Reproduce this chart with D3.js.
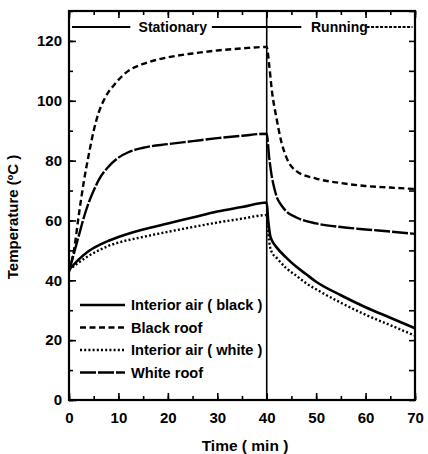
<!DOCTYPE html>
<html>
<head>
<meta charset="utf-8">
<script src="https://cdn.jsdelivr.net/npm/d3@7"></script>
<style>
  body { margin: 0; background: #fff; }
  svg { display: block; font-family: "Liberation Sans", Arial, sans-serif; font-weight: bold; }
</style>
</head>
<body>
<div id="chart"></div>
<script>
// time (min), temperature (C)
const blackRoofT = [0, 1, 2, 3, 4, 5, 6, 7, 8, 9, 10, 12, 15, 20, 25, 30, 35, 40,
                    40.5, 41, 42, 43, 44, 46, 50, 55, 60, 65, 70];
const blackRoofV = [43, 50, 62, 73, 82, 90, 96, 100, 103, 105, 107, 110, 112.3, 114.5, 115.8, 116.8, 117.5, 118,
                    112, 104, 94, 86, 81, 76.5, 74, 72.5, 71.5, 71, 70.5];

const whiteRoofT = [0, 1, 2, 3, 4, 5, 6, 8, 10, 12, 15, 20, 25, 30, 35, 40,
                    40.5, 41, 41.5, 42, 43, 44, 46, 50, 55, 60, 65, 70];
const whiteRoofV = [43, 49, 55, 61, 66, 70, 73.5, 78, 81, 82.8, 84.3, 85.5, 86.5, 87.5, 88.3, 89,
                    81, 75, 71, 68, 65, 63, 61, 59, 57.8, 57, 56.3, 55.5];

const airBlackT = [0, 2, 4, 6, 8, 10, 15, 20, 25, 30, 35, 40,
                   40.3, 40.7, 41, 42, 44, 46, 48, 50, 55, 60, 65, 70];
const airBlackV = [43.5, 47, 49.8, 51.7, 53.2, 54.5, 57, 59, 61, 63, 64.5, 66,
                   60, 55, 53.5, 51, 47.5, 44.5, 42, 39.5, 35, 31, 27.5, 24];

const airWhiteT = [0, 2, 4, 6, 8, 10, 15, 20, 25, 30, 35, 40,
                   40.3, 40.7, 41, 42, 44, 46, 48, 50, 55, 60, 65, 70];
const airWhiteV = [43.5, 46, 48.2, 50, 51.5, 52.6, 54.5, 56.2, 57.8, 59.3, 60.6, 61.8,
                   56, 51, 49.5, 47.5, 44, 41.5, 39, 37, 32.5, 28.5, 25, 21.5];

const legendLabels = ["Interior air ( black )", "Black roof", "Interior air ( white )", "White roof"];
const xTicks = [0, 10, 20, 30, 40, 50, 60, 70];
const yTicks = [0, 20, 40, 60, 80, 100, 120];

const width = 428, height = 454;
const margin = { left: 69, right: 13, top: 11, bottom: 54 };

const x = d3.scaleLinear().domain([0, 70]).range([margin.left, width - margin.right]);
const y = d3.scaleLinear().domain([0, 130]).range([height - margin.bottom, margin.top]);

const svg = d3.select('#chart').append('svg')
    .attr('width', width)
    .attr('height', height);

const series = [
    { t: airBlackT, v: airBlackV, dash: null, w: 2.6 },
    { t: blackRoofT, v: blackRoofV, dash: '6,3.5', w: 2.4 },
    { t: airWhiteT, v: airWhiteV, dash: '2,2.2', w: 2.4 },
    { t: whiteRoofT, v: whiteRoofV, dash: '16,2', w: 2.4 }
];

const line = d3.line()
    .x(d => x(d[0]))
    .y(d => y(d[1]))
    .curve(d3.curveMonotoneX);

series.forEach(s => {
    svg.append('path')
        .datum(s.t.map((t, i) => [t, s.v[i]]))
        .attr('d', line)
        .attr('fill', 'none')
        .attr('stroke', '#000')
        .attr('stroke-width', s.w)
        .attr('stroke-dasharray', s.dash);
});

// divider at 40 min
svg.append('line')
    .attr('x1', x(40)).attr('x2', x(40))
    .attr('y1', y(130)).attr('y2', y(0))
    .attr('stroke', '#000').attr('stroke-width', 1.6);

// axes with inward ticks
const minorX = d3.range(0, 71, 5);
const minorY = d3.range(0, 131, 10);

function styleAxis(g) {
    g.select('.domain').remove();
    g.selectAll('.tick line').attr('stroke', '#000').attr('stroke-width', 1.6);
}

function styleLabels(g) {
    g.selectAll('text').attr('font-size', 15).attr('font-weight', 'bold')
        .attr('font-family', '"Liberation Sans", Arial, sans-serif').attr('fill', '#000');
}

svg.append('g')
    .attr('transform', `translate(0,${y(0)})`)
    .call(d3.axisBottom(x).tickValues(minorX).tickSize(-4).tickFormat(''))
    .call(styleAxis);
svg.append('g')
    .attr('transform', `translate(0,${y(0)})`)
    .call(d3.axisBottom(x).tickValues(xTicks).tickSize(-7).tickPadding(12).tickFormat(d3.format('d')))
    .call(styleAxis)
    .call(styleLabels);

svg.append('g')
    .attr('transform', `translate(0,${y(130)})`)
    .call(d3.axisTop(x).tickValues(minorX).tickSize(-4).tickFormat(''))
    .call(styleAxis);
svg.append('g')
    .attr('transform', `translate(0,${y(130)})`)
    .call(d3.axisTop(x).tickValues(xTicks).tickSize(-7).tickFormat(''))
    .call(styleAxis);

svg.append('g')
    .attr('transform', `translate(${x(0)},0)`)
    .call(d3.axisLeft(y).tickValues(minorY).tickSize(-4).tickFormat(''))
    .call(styleAxis);
svg.append('g')
    .attr('transform', `translate(${x(0)},0)`)
    .call(d3.axisLeft(y).tickValues(yTicks).tickSize(-7).tickPadding(7).tickFormat(d3.format('d')))
    .call(styleAxis)
    .call(styleLabels);

svg.append('g')
    .attr('transform', `translate(${x(70)},0)`)
    .call(d3.axisRight(y).tickValues(minorY).tickSize(-6).tickFormat(''))
    .call(styleAxis);

// frame
svg.append('rect')
    .attr('x', x(0)).attr('y', y(130))
    .attr('width', x(70) - x(0)).attr('height', y(0) - y(130))
    .attr('fill', 'none').attr('stroke', '#000').attr('stroke-width', 2.2);

// top phase annotation
const annY = 27;
const ann = svg.append('g').attr('stroke', '#000').attr('stroke-width', 1.8);
ann.append('line').attr('x1', x(0.6)).attr('x2', x(12.4)).attr('y1', annY).attr('y2', annY);
ann.append('line').attr('x1', x(28.9)).attr('x2', x(47)).attr('y1', annY).attr('y2', annY);
ann.append('line').attr('x1', x(60.2)).attr('x2', x(69.5)).attr('y1', annY).attr('y2', annY)
    .attr('stroke-dasharray', '3,1.5');
svg.append('text').attr('x', x(21)).attr('y', annY + 5).attr('text-anchor', 'middle')
    .attr('font-size', 14).text('Stationary');
svg.append('text').attr('x', x(54.7)).attr('y', annY + 5).attr('text-anchor', 'middle')
    .attr('font-size', 14).text('Running');

// legend
const legend = svg.append('g');
legendLabels.forEach((label, i) => {
    const ly = 305 + i * 22.5;
    const s = series[i];
    legend.append('line')
        .attr('x1', 80).attr('x2', 125).attr('y1', ly).attr('y2', ly)
        .attr('stroke', '#000').attr('stroke-width', s.w)
        .attr('stroke-dasharray', s.dash);
    legend.append('text')
        .attr('x', 131).attr('y', ly + 5)
        .attr('font-size', 14.6)
        .text(label);
});

// axis titles
svg.append('text')
    .attr('x', 245).attr('y', 451)
    .attr('text-anchor', 'middle')
    .attr('font-size', 15.5)
    .text('Time ( min )');
svg.append('text')
    .attr('transform', 'translate(18,217) rotate(-90)')
    .attr('text-anchor', 'middle')
    .attr('font-size', 15)
    .text('Temperature (ºC )');
</script>
</body>
</html>
